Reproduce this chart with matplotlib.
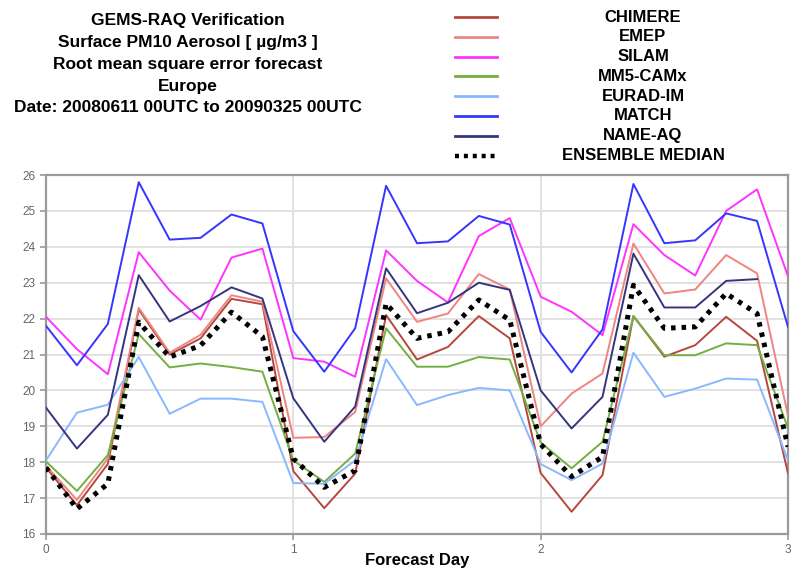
import matplotlib
matplotlib.use("Agg")
import matplotlib.pyplot as plt
import numpy as np
from matplotlib.lines import Line2D

plt.rcParams['font.family'] = ['Liberation Sans', 'DejaVu Sans']

# forecast steps every 3 hours over 3 days
steps = np.arange(25) / 8.0

chimere = [17.85, 16.8, 17.95, 22.25, 21.0, 21.45, 22.55, 22.4, 17.75, 16.72, 17.68, 22.1, 20.86,
           21.21, 22.07, 21.45, 17.7, 16.62, 17.64, 22.07, 20.94, 21.26, 22.05, 21.38, 17.69]
emep = [17.9, 16.95, 18.1, 22.3, 21.05, 21.55, 22.65, 22.47, 18.68, 18.7, 19.4, 23.12, 21.91,
        22.14, 23.24, 22.81, 19.0, 19.91, 20.47, 24.09, 22.7, 22.81, 23.77, 23.26, 19.3]
silam = [22.05, 21.15, 20.45, 23.85, 22.78, 21.97, 23.7, 23.95, 20.9, 20.8, 20.38, 23.9, 23.05,
         22.45, 24.3, 24.8, 22.61, 22.19, 21.54, 24.63, 23.77, 23.2, 25.0, 25.6, 23.18]
mm5_camx = [18.02, 17.2, 18.2, 21.57, 20.64, 20.75, 20.65, 20.52, 18.05, 17.45, 18.24, 21.73, 20.66,
            20.66, 20.93, 20.86, 18.55, 17.83, 18.57, 22.07, 20.98, 20.98, 21.31, 21.26, 18.95]
eurad = [18.05, 19.38, 19.6, 20.93, 19.35, 19.77, 19.77, 19.68, 17.42, 17.4, 18.05, 20.87, 19.59,
         19.87, 20.07, 20.0, 17.95, 17.5, 17.96, 21.05, 19.82, 20.05, 20.33, 20.3, 18.05]
match = [21.8, 20.7, 21.85, 25.8, 24.2, 24.25, 24.9, 24.65, 21.65, 20.52, 21.73, 25.7, 24.1,
         24.15, 24.86, 24.62, 21.63, 20.5, 21.7, 25.75, 24.1, 24.18, 24.93, 24.72, 21.77]
name_aq = [19.52, 18.38, 19.32, 23.21, 21.92, 22.35, 22.87, 22.56, 19.78, 18.57, 19.55, 23.4, 22.15,
           22.44, 23.0, 22.8, 20.0, 18.94, 19.82, 23.81, 22.31, 22.31, 23.05, 23.1, np.nan]
median = [17.85, 16.7, 17.4, 21.9, 20.93, 21.25, 22.18, 21.5, 18.1, 17.3, 17.77, 22.42, 21.45,
          21.63, 22.52, 21.96, 18.5, 17.6, 18.15, 22.93, 21.73, 21.77, 22.7, 22.14, 18.43]

names = ['CHIMERE', 'EMEP', 'SILAM', 'MM5-CAMx', 'EURAD-IM', 'MATCH', 'NAME-AQ', 'ENSEMBLE MEDIAN']
series = [chimere, emep, silam, mm5_camx, eurad, match, name_aq, median]
colors = ['#b5483c', '#ee8580', '#ff33ff', '#72b043', '#8ab8ff', '#3535ff', '#35357f', 'black']

title_lines = ['GEMS-RAQ Verification', 'Surface PM10 Aerosol [ \u00b5g/m3 ]',
               'Root mean square error forecast', 'Europe',
               'Date: 20080611 00UTC to 20090325 00UTC']

fig = plt.figure(figsize=(7.98, 5.70), dpi=100)
W, H = 798.0, 570.0
ax = fig.add_axes([46 / W, 1 - 534 / H, (788 - 46) / W, (534 - 175) / H])

for name, vals, c in zip(names, series, colors):
    if name == 'ENSEMBLE MEDIAN':
        ax.plot(steps, vals, color=c, lw=3.6, linestyle=(0, (0.9, 1.2)), zorder=5)
    else:
        ax.plot(steps, vals, color=c, lw=1.4, zorder=3)

ax.set_xlim(0, 3)
ax.set_ylim(16, 26)
ax.set_xticks([0, 1, 2, 3])
ax.set_yticks(range(16, 27))
ax.grid(True, color='#e2e2e2', lw=1.4)
ax.set_axisbelow(True)
for s in ax.spines.values():
    s.set_color('#9a9a9a')
    s.set_linewidth(1.6)
ax.tick_params(colors='#9a9a9a', labelcolor='#666666', labelsize=8.5, length=4, width=1.2)

# x axis title, kept just inside the bottom edge
fig.text(417 / W, 1.5 / H, 'Forecast Day', ha='center', va='bottom',
         fontsize=12, fontweight='bold')

# title block
for i, t in enumerate(title_lines):
    fig.text(188 / W, 1 - (20 + 22 * i) / H, t, ha='center', va='center',
             fontsize=12.5, fontweight='bold')

# legend block
for i, (name, c) in enumerate(zip(names, colors)):
    yy = 1 - (17 + 19.8 * i) / H
    if name == 'ENSEMBLE MEDIAN':
        ln = Line2D([455 / W, 497 / W], [yy, yy], color=c, lw=3.2, linestyle=(0, (0.9, 1.1)))
    else:
        ln = Line2D([455 / W, 497 / W], [yy, yy], color=c, lw=2)
    fig.add_artist(ln)
    fig.text(643 / W, yy, name, ha='center', va='center', fontsize=12, fontweight='bold')

fig.savefig('out.png', dpi=100)
